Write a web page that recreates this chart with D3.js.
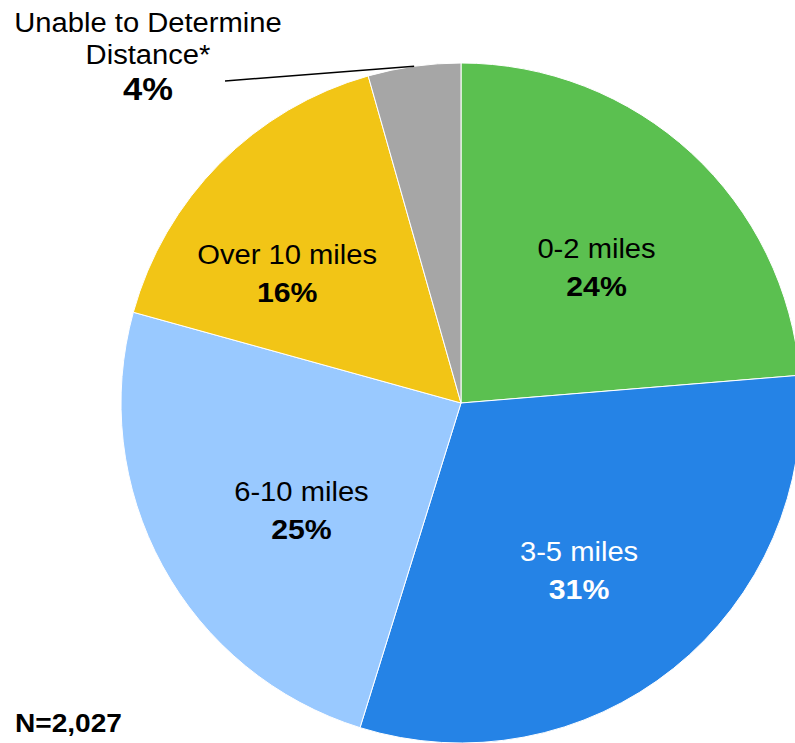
<!DOCTYPE html>
<html>
<head>
<meta charset="utf-8">
<script src="https://cdn.jsdelivr.net/npm/d3@7"></script>
<style>
  body { margin: 0; background: #fff; }
  text { font-family: "Liberation Sans", Arial, sans-serif; }
</style>
</head>
<body>
<div id="chart"></div>
<script>
const categories = ["0-2 miles", "3-5 miles", "6-10 miles", "Over 10 miles", "Unable to Determine Distance*"];
const shares = [23.7, 31.1, 24.5, 16.3, 4.4];
const shareLabels = ["24%", "31%", "25%", "16%", "4%"];
const colors = ["#5bc050", "#2583e6", "#99c9ff", "#f2c516", "#a6a6a6"];
const labelColors = ["#000", "#fff", "#000", "#000", "#000"];
const sampleNote = "N=2,027";

const width = 795, height = 743;
const cx = 461, cy = 403, radius = 340;
const stretch = 1.08;
// small nudges so labels sit where the original placed them
const nudgeX = [0, -7, 16, -32];
const nudgeY = 9;

const svg = d3.select("#chart")
    .append("svg")
    .attr("width", width)
    .attr("height", height);

const pie = d3.pie().sort(null).value(d => d.value);
const arcs = pie(categories.map((c, i) => ({ name: c, value: shares[i], i })));

const arc = d3.arc().innerRadius(0).outerRadius(radius);

const g = svg.append("g").attr("transform", `translate(${cx},${cy})`);

g.selectAll("path.slice")
    .data(arcs)
    .join("path")
    .attr("class", "slice")
    .attr("d", arc)
    .attr("fill", d => colors[d.data.i])
    .attr("stroke", "#fff")
    .attr("stroke-width", 1);

// inside labels (all but the small grey slice)
const inner = arcs.filter(d => d.data.i < 4);
const labelR = 200;
const lab = g.selectAll("g.lab")
    .data(inner)
    .join("g")
    .attr("class", "lab")
    .attr("transform", d => {
        const a = (d.startAngle + d.endAngle) / 2;
        const x = labelR * Math.sin(a) + nudgeX[d.data.i];
        const y = -labelR * Math.cos(a) + nudgeY;
        return `translate(${x},${y}) scale(${stretch},1)`;
    });

lab.append("text")
    .attr("text-anchor", "middle")
    .attr("y", -7)
    .attr("font-size", 27)
    .attr("fill", d => labelColors[d.data.i])
    .text(d => d.data.name);

lab.append("text")
    .attr("text-anchor", "middle")
    .attr("y", 31)
    .attr("font-size", 28)
    .attr("font-weight", "bold")
    .attr("fill", d => labelColors[d.data.i])
    .text(d => shareLabels[d.data.i]);

// outside label with leader line for the grey slice
const grey = arcs[4];
const ga = (grey.startAngle + grey.endAngle) / 2;
const lx = 148;
svg.append("line")
    .attr("x1", cx + radius * Math.sin(ga))
    .attr("y1", cy - radius * Math.cos(ga))
    .attr("x2", 225)
    .attr("y2", 81)
    .attr("stroke", "#000")
    .attr("stroke-width", 1.5);

const outer = svg.append("g").attr("transform", `translate(${lx},0) scale(${stretch},1)`);
const words = categories[4].split(" ");
outer.append("text")
    .attr("text-anchor", "middle")
    .attr("y", 32)
    .attr("font-size", 27)
    .text(words.slice(0, 3).join(" "));
outer.append("text")
    .attr("text-anchor", "middle")
    .attr("y", 64)
    .attr("font-size", 27)
    .text(words.slice(3).join(" "));
outer.append("text")
    .attr("text-anchor", "middle")
    .attr("y", 100)
    .attr("font-size", 32)
    .attr("font-weight", "bold")
    .text(shareLabels[4]);

svg.append("text")
    .attr("transform", `translate(15,732) scale(${stretch},1)`)
    .attr("font-size", 26)
    .attr("font-weight", "bold")
    .text(sampleNote);
</script>
</body>
</html>
